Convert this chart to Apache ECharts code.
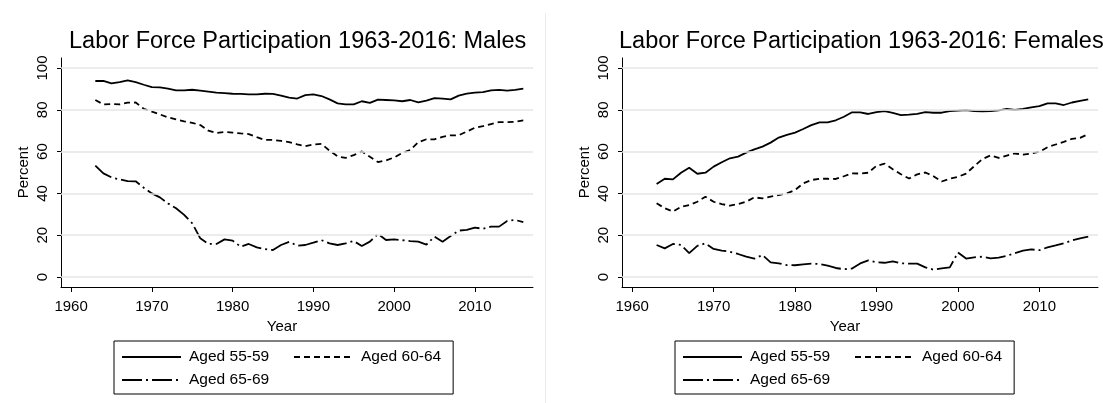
<!DOCTYPE html>
<html>
<head>
<meta charset="utf-8">
<script src="https://cdn.jsdelivr.net/npm/echarts@6/dist/echarts.min.js"></script>
<style>
  html, body { margin: 0; padding: 0; background: #fff; }
  #chart { width: 1103px; height: 403px; }
</style>
</head>
<body>
<div id="chart"></div>
<script>
// labor force participation, percent, 1963-2016
const years = [1963, 1964, 1965, 1966, 1967, 1968, 1969, 1970, 1971, 1972,
  1973, 1974, 1975, 1976, 1977, 1978, 1979, 1980, 1981, 1982,
  1983, 1984, 1985, 1986, 1987, 1988, 1989, 1990, 1991, 1992,
  1993, 1994, 1995, 1996, 1997, 1998, 1999, 2000, 2001, 2002,
  2003, 2004, 2005, 2006, 2007, 2008, 2009, 2010, 2011, 2012,
  2013, 2014, 2015, 2016]

const male5559 = [93.8, 93.8, 92.7, 93.3, 94.1, 93.3, 92.0, 90.9, 90.7, 90.1,
  89.3, 89.3, 89.6, 89.2, 88.7, 88.2, 88.0, 87.7, 87.6, 87.4,
  87.4, 87.7, 87.6, 86.8, 85.8, 85.4, 87.0, 87.4, 86.6, 85.0,
  83.1, 82.6, 82.6, 84.1, 83.3, 84.9, 84.7, 84.5, 84.1, 84.7,
  83.6, 84.4, 85.6, 85.4, 85.0, 86.8, 87.7, 88.2, 88.5, 89.3,
  89.5, 89.2, 89.5, 90.1]
const male6064 = [84.7, 82.6, 82.8, 82.6, 83.4, 83.5, 80.5, 79.1, 77.8, 76.4,
  75.4, 74.5, 73.8, 72.7, 70.0, 68.9, 69.4, 69.1, 68.7, 68.4,
  66.9, 65.6, 65.6, 65.1, 64.5, 63.5, 62.6, 63.4, 63.7, 60.5,
  57.7, 57.0, 58.3, 60.1, 57.5, 55.0, 55.8, 57.2, 59.3, 60.8,
  64.5, 65.9, 65.9, 67.1, 67.8, 67.8, 69.6, 71.4, 72.2, 73.2,
  74.1, 74.1, 74.3, 74.9]
const male6569 = [53.3, 49.6, 47.7, 46.7, 45.9, 45.8, 42.7, 40.0, 38.1, 35.2,
  32.9, 29.7, 25.7, 18.5, 15.8, 15.8, 18.0, 17.4, 14.5, 15.8,
  14.2, 13.3, 12.9, 15.3, 16.8, 15.0, 15.3, 16.4, 17.6, 16.1,
  15.3, 16.1, 17.2, 14.8, 16.9, 20.6, 17.7, 18.0, 17.6, 17.2,
  16.9, 15.5, 19.3, 16.9, 19.6, 22.2, 22.5, 23.6, 23.1, 24.1,
  24.1, 26.8, 27.3, 26.2]

const female5559 = [44.5, 47.0, 46.7, 49.9, 52.3, 49.4, 49.9, 52.8, 54.9, 56.8,
  57.6, 59.5, 61.1, 62.4, 64.3, 66.7, 68.0, 69.1, 70.8, 72.7,
  74.0, 74.0, 75.0, 76.7, 78.8, 78.8, 78.0, 78.9, 79.4, 78.5,
  77.5, 77.7, 78.1, 78.9, 78.6, 78.6, 79.4, 79.6, 79.9, 79.4,
  79.3, 79.4, 79.7, 80.4, 80.0, 80.4, 81.2, 81.8, 83.1, 83.1,
  82.3, 83.5, 84.3, 85.0]
const female6064 = [35.3, 32.9, 31.3, 33.6, 34.4, 36.0, 38.4, 36.0, 34.9, 34.1,
  34.9, 36.0, 38.1, 37.6, 38.4, 39.2, 40.0, 41.6, 44.8, 46.4,
  47.0, 47.0, 46.9, 48.2, 49.6, 49.5, 49.9, 53.2, 54.2, 51.6,
  49.2, 47.1, 49.1, 50.0, 48.2, 45.7, 47.0, 47.9, 49.5, 53.0,
  56.4, 58.2, 57.0, 58.1, 59.1, 58.6, 59.1, 59.9, 62.1, 63.4,
  64.7, 66.1, 66.6, 68.4]
const female6569 = [15.3, 13.7, 15.8, 15.3, 11.4, 14.9, 16.1, 13.4, 12.6, 12.1,
  11.0, 9.7, 8.8, 10.5, 7.0, 6.5, 5.7, 5.6, 6.0, 6.4,
  6.2, 5.4, 4.3, 3.7, 4.0, 6.5, 7.9, 7.0, 6.8, 7.5,
  6.5, 6.4, 6.4, 4.6, 3.5, 4.1, 4.6, 11.7, 8.8, 9.4,
  9.7, 8.9, 9.3, 10.1, 11.4, 12.6, 13.2, 12.8, 14.2, 15.1,
  16.1, 17.5, 18.5, 19.3]

const seriesNames = ['Aged 55-59', 'Aged 60-64', 'Aged 65-69']
const panelTitles = ['Labor Force Participation 1963-2016: Males', 'Labor Force Participation 1963-2016: Females']
const xTicks = [1960, 1970, 1980, 1990, 2000, 2010]
const yTicks = [0, 20, 40, 60, 80, 100]

const FONT = '"Liberation Sans", Arial, sans-serif'
const dashTypes = ['solid', [6, 4], [20, 4, 2, 4]]

const panels = [
  { left: 61, right: 570, titleLeft: 69, legendLeft: 114, data: [male5559, male6064, male6569] },
  { left: 622, right: 5, titleLeft: 619, legendLeft: 675, data: [female5559, female6064, female6569] }
]

const chart = echarts.init(document.getElementById('chart'), null, { renderer: 'canvas' })

const grid = panels.map(p => ({ left: p.left, right: p.right, top: 58, bottom: 116 }))

const xAxis = panels.map((p, i) => ({
  type: 'value',
  gridIndex: i,
  min: 1958.75,
  max: 2017.2,
  name: 'Year',
  nameLocation: 'middle',
  nameGap: 27,
  nameTextStyle: { fontFamily: FONT, fontSize: 15, color: '#000', padding: [0, 30, 0, 0] },
  axisLine: { onZero: false, lineStyle: { color: '#000', width: 1 } },
  axisTick: { customValues: xTicks, length: 5, lineStyle: { color: '#000' } },
  axisLabel: {
    customValues: xTicks, margin: 12, fontFamily: FONT, fontSize: 15, color: '#000',
    formatter: v => String(v)
  },
  splitLine: { show: false }
}))

const yAxis = panels.map((p, i) => ({
  type: 'value',
  gridIndex: i,
  min: -4.8,
  max: 104.8,
  name: 'Percent',
  nameLocation: 'middle',
  nameGap: 30,
  nameTextStyle: { fontFamily: FONT, fontSize: 15, color: '#000' },
  axisLine: { show: true, lineStyle: { color: '#000', width: 1 } },
  axisTick: { show: true, customValues: yTicks, length: 4, lineStyle: { color: '#000' } },
  axisLabel: {
    customValues: yTicks, rotate: 90, margin: 11, fontFamily: FONT, fontSize: 15, color: '#000',
    formatter: v => String(v)
  },
  splitLine: { show: false }
}))

const series = []
panels.forEach((p, i) => {
  // light grid lines behind the data
  series.push({
    name: 'grid' + i,
    type: 'line',
    xAxisIndex: i,
    yAxisIndex: i,
    data: [],
    z: 1,
    silent: true,
    markLine: {
      silent: true,
      symbol: ['none', 'none'],
      label: { show: false },
      lineStyle: { color: '#e6e6e6', width: 1.5, type: 'solid' },
      emphasis: { disabled: true },
      data: yTicks.map(v => ({ yAxis: v }))
    }
  })
  p.data.forEach((vals, k) => {
    series.push({
      name: seriesNames[k],
      type: 'line',
      xAxisIndex: i,
      yAxisIndex: i,
      symbol: 'none',
      z: 2,
      itemStyle: { color: '#000' },
      lineStyle: { color: '#000', width: 1.8, type: dashTypes[k] },
      emphasis: { disabled: true },
      data: years.map((y, j) => [y, vals[j]])
    })
  })
})

const legend = panels.map(p => ({
  left: p.legendLeft,
  top: 341,
  width: 330,
  orient: 'horizontal',
  padding: [7, 12, 5, 7],
  itemGap: 5,
  itemWidth: 59,
  itemHeight: 14,
  borderColor: '#000',
  borderWidth: 1,
  selectedMode: false,
  itemStyle: { opacity: 0 },
  textStyle: { fontFamily: FONT, fontSize: 15.5, color: '#000', lineHeight: 18, padding: [0, 0, 0, 3] },
  data: [
    { name: seriesNames[0], textStyle: { width: 99 } },
    { name: seriesNames[1] },
    { name: seriesNames[2] }
  ]
}))

const title = panels.map((p, i) => ({
  text: panelTitles[i],
  left: p.titleLeft,
  top: 30,
  padding: 0,
  textStyle: { fontFamily: FONT, fontSize: 23.5, fontWeight: 'normal', color: '#000', lineHeight: 24 }
}))

chart.setOption({
  backgroundColor: '#fff',
  animation: false,
  title,
  grid,
  xAxis,
  yAxis,
  legend,
  graphic: [{
    type: 'line',
    shape: { x1: 545.5, y1: 13, x2: 545.5, y2: 403 },
    style: { stroke: '#ebebeb', lineWidth: 1 },
    silent: true
  }],
  series
})
</script>
</body>
</html>
